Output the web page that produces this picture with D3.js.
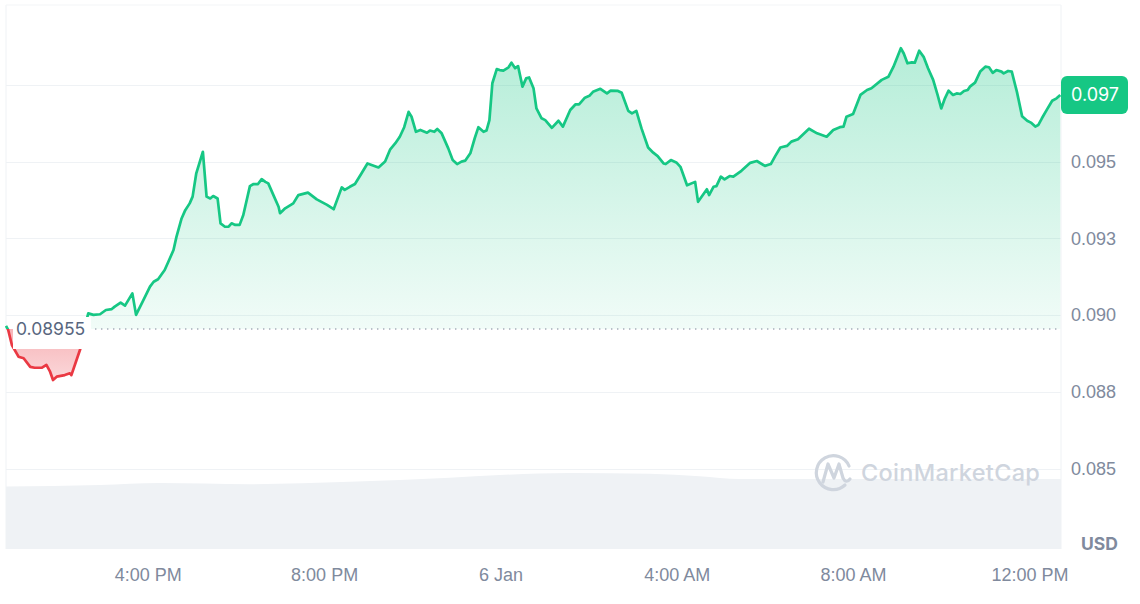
<!DOCTYPE html>
<html><head><meta charset="utf-8">
<script src="https://cdn.jsdelivr.net/npm/d3@7"></script>
<style>
html,body{margin:0;padding:0;background:#fff;}
svg{display:block;font-family:Inter,"Noto Sans",sans-serif;}
</style>
</head><body>
<svg id="chart" width="1140" height="604"></svg>
<script>
// ---------- DATA ----------
const times = ["12:47","12:50","12:55","13:04","13:11","13:20","13:26","13:36","13:42","13:47","13:51","13:56","14:07","14:14","14:16","14:23","14:28","14:33",
"14:39","14:46","14:55","15:03","15:11","15:15","15:23","15:29","15:39","15:44","15:54","16:03","16:08","16:14","16:23","16:28","16:35","16:39","16:46","16:51","16:57","17:01","17:06","17:15","17:20","17:25","17:29","17:35","17:39","17:45","17:50","17:54","17:59","18:05","18:10","18:19","18:24","18:30","18:35","18:40","18:44","18:51","18:58","19:00","19:07","19:18","19:25","19:38","19:50","20:04","20:13","20:24","20:28","20:35","20:42","20:51","20:59","21:14","21:23","21:30","21:37","21:43","21:49","21:55","21:59","22:05","22:11","22:20","22:24","22:30","22:34","22:40","22:49","22:55","23:01","23:07","23:12","23:19","23:25","23:30","23:37","23:41","23:45","23:49","23:55","23:59",
"00:04","00:11","00:15","00:20","00:24","00:30","00:35","00:39","00:45","00:49","00:56","01:01","01:10","01:19","01:25","01:35","01:42","01:47","01:55","02:01","02:06","02:16","02:25","02:30","02:40","02:45","02:54","02:59","03:05","03:12","03:21","03:28","03:34","03:42","03:45","03:52","04:00","04:05","04:14","04:25","04:29","04:41","04:44","04:50","04:54","05:00","05:05","05:12","05:17","05:28","05:40","05:49","06:00","06:08","06:14","06:21","06:30","06:36","06:45","07:00","07:11","07:24","07:33","07:42","07:47","07:51","08:00","08:10","08:19","08:25","08:39","08:48","08:55","09:05","09:09","09:14","09:20","09:24","09:30","09:36","09:42","09:49","09:55","10:00","10:05","10:10","10:16","10:21","10:26","10:31","10:36","10:39","10:46","10:53","11:00","11:05","11:10","11:15","11:22","11:25","11:31","11:36","11:43","11:50","11:57","12:02","12:08","12:12","12:17","12:24","12:31","12:37","12:42"];
const prices = [0.08965,0.08952,0.08903,0.08865,0.08860,0.08832,0.08829,0.08829,0.08838,0.08816,0.08789,0.08800,0.08805,0.08811,0.08805,0.08854,0.08889,0.08952,
0.09006,0.09001,0.09003,0.09017,0.09020,0.09028,0.09041,0.09031,0.09071,0.09001,0.09049,0.09093,0.09109,0.09117,0.09147,0.09174,0.09212,0.09255,0.09315,0.09342,0.09364,0.09386,0.09462,0.09532,0.09386,0.09380,0.09388,0.09380,0.09299,0.09288,0.09288,0.09299,0.09294,0.09294,0.09326,0.09420,0.09427,0.09427,0.09443,0.09434,0.09429,0.09391,0.09353,0.09332,0.09348,0.09364,0.09391,0.09399,0.09377,0.09359,0.09345,0.09416,0.09408,0.09418,0.09427,0.09462,0.09494,0.09481,0.09500,0.09540,0.09560,0.09581,0.09612,0.09662,0.09646,0.09597,0.09603,0.09594,0.09601,0.09597,0.09606,0.09592,0.09543,0.09505,0.09492,0.09500,0.09503,0.09527,0.09576,0.09612,0.09597,0.09601,0.09635,0.09755,0.09801,0.09798,
0.09796,0.09807,0.09822,0.09804,0.09811,0.09744,0.09771,0.09774,0.09739,0.09673,0.09641,0.09635,0.09610,0.09633,0.09614,0.09668,0.09686,0.09686,0.09708,0.09714,0.09727,0.09737,0.09722,0.09731,0.09730,0.09724,0.09665,0.09657,0.09665,0.09608,0.09546,0.09529,0.09518,0.09494,0.09492,0.09505,0.09496,0.09483,0.09423,0.09434,0.09369,0.09410,0.09391,0.09418,0.09420,0.09451,0.09442,0.09453,0.09451,0.09470,0.09496,0.09502,0.09486,0.09492,0.09518,0.09546,0.09551,0.09565,0.09573,0.09607,0.09592,0.09581,0.09603,0.09612,0.09614,0.09646,0.09655,0.09717,0.09733,0.09739,0.09766,0.09776,0.09809,0.09869,0.09852,0.09820,0.09823,0.09822,0.09861,0.09841,0.09804,0.09766,0.09717,0.09673,0.09706,0.09731,0.09717,0.09722,0.09720,0.09730,0.09733,0.09744,0.09757,0.09793,0.09809,0.09807,0.09789,0.09798,0.09793,0.09787,0.09795,0.09793,0.09727,0.09648,0.09633,0.09627,0.09614,0.09619,0.09641,0.09670,0.09698,0.09706,0.09717];
const openPrice = 0.08955;
const openLabel = "0.08955";
const currentLabel = "0.097";
const yTickValues = [0.0850,0.0875,0.0900,0.0925,0.0950,0.0975];
const yTickLabels = ["0.085","0.088","0.090","0.093","0.095","0.097"];
const xTickTimes = ["16:00","20:00","00:00","04:00","08:00","12:00"];
const xTickLabels = ["4:00 PM","8:00 PM","6 Jan","4:00 AM","8:00 AM","12:00 PM"];
const volTimes = ["12:47","14:55","16:16","18:19","20:35","22:51","23:59","01:34","03:23","04:31","05:26","06:48","12:43"];
const volValues = [78,80,82.5,81,84,89,92.5,95,94,91,87.5,87.5,87.5];
const domainTimes = ["12:47","12:43"];
const currencyLabel = "USD";
const watermark = "CoinMarketCap";

// ---------- HELPERS ----------
function parseSeq(arr){
  let day = 5, prev = -1;
  return arr.map(s => {
    const [h,m] = s.split(":").map(Number);
    const mins = h*60+m;
    if (prev >= 0 && mins < prev) day++;
    prev = mins;
    return new Date(2025,0,day,h,m);
  });
}
const tDates = parseSeq(times);
const data = tDates.map((d,i)=>({t:d, v:prices[i]}));
const vDates = parseSeq(volTimes);
const vol = vDates.map((d,i)=>({t:d, v:volValues[i]}));
const xTicks = parseSeq(xTickTimes);
const dom = parseSeq(domainTimes);

// ---------- LAYOUT ----------
const L = 6, R = 1061, T = 5, B = 549;
const svg = d3.select("#chart");
const x = d3.scaleTime().domain(dom).range([L, R]);
const y = d3.scaleLinear().domain([0.085, 0.0975]).range([468.8, 84.8]);
const vy = d3.scaleLinear().domain([0, 100]).range([B, 469]);
const by = y(openPrice);

const defs = svg.append("defs");
const gG = defs.append("linearGradient").attr("id","gGreen").attr("gradientUnits","userSpaceOnUse")
  .attr("x1",0).attr("x2",0).attr("y1",45).attr("y2",by);
gG.append("stop").attr("offset","0").attr("stop-color","#16c784").attr("stop-opacity",0.32);
gG.append("stop").attr("offset","1").attr("stop-color","#16c784").attr("stop-opacity",0.06);
const gR = defs.append("linearGradient").attr("id","gRed").attr("gradientUnits","userSpaceOnUse")
  .attr("x1",0).attr("x2",0).attr("y1",by).attr("y2",385);
gR.append("stop").attr("offset","0").attr("stop-color","#ea3943").attr("stop-opacity",0.38);
gR.append("stop").attr("offset","1").attr("stop-color","#ea3943").attr("stop-opacity",0.18);
defs.append("clipPath").attr("id","cAbove").append("rect").attr("x",0).attr("y",0).attr("width",1140).attr("height",by);
defs.append("clipPath").attr("id","cBelow").append("rect").attr("x",0).attr("y",by).attr("width",1140).attr("height",604-by);

// frame lines
svg.append("line").attr("x1",L).attr("x2",L).attr("y1",T).attr("y2",B).attr("stroke","#eff2f5");
svg.append("line").attr("x1",R).attr("x2",R).attr("y1",T).attr("y2",B).attr("stroke","#eff2f5");
svg.append("line").attr("x1",L).attr("x2",R).attr("y1",T).attr("y2",T).attr("stroke","#f3f5f7");

// volume
svg.append("path").datum(vol)
  .attr("d", d3.area().x(d=>x(d.t)).y0(B).y1(d=>vy(d.v)).curve(d3.curveMonotoneX))
  .attr("fill","#eff2f5");

// gridlines
svg.append("g").selectAll("line").data(yTickValues).join("line")
  .attr("x1",L).attr("x2",R).attr("y1",d=>Math.round(y(d))+0.5).attr("y2",d=>Math.round(y(d))+0.5)
  .attr("stroke","#eff2f5").attr("stroke-width",1);

// watermark
const wm = svg.append("g").attr("fill","none").attr("stroke","#cfd5de").attr("stroke-width",3.2).attr("stroke-linecap","round").attr("stroke-linejoin","round");
wm.append("path").attr("d","M845 485 A17 17 0 1 1 849 466");
wm.append("path").attr("d","M823 482 L828 464 L834 478 L839 464 L843 478 Q846 484 850 479");
svg.append("text").attr("x",861).attr("y",481).text(watermark)
  .attr("font-size",23.5).attr("font-weight",500).attr("letter-spacing",0.3).attr("fill","#cfd5de");

// areas
const area = d3.area().x(d=>x(d.t)).y0(by).y1(d=>y(d.v));
svg.append("path").datum(data).attr("d",area).attr("fill","url(#gGreen)").attr("clip-path","url(#cAbove)");
svg.append("path").datum(data).attr("d",area).attr("fill","url(#gRed)").attr("clip-path","url(#cBelow)");

// baseline dotted
svg.append("line").attr("x1",95).attr("x2",R).attr("y1",by).attr("y2",by)
  .attr("stroke","#a6adb9").attr("stroke-width",1.4).attr("stroke-dasharray","1.4 4.6");

// lines
const line = d3.line().x(d=>x(d.t)).y(d=>y(d.v));
svg.append("path").datum(data).attr("d",line).attr("fill","none").attr("stroke","#16c784")
  .attr("stroke-width",2.7).attr("stroke-linejoin","round").attr("clip-path","url(#cAbove)");
svg.append("path").datum(data).attr("d",line).attr("fill","none").attr("stroke","#ea3943")
  .attr("stroke-width",2.7).attr("stroke-linejoin","round").attr("clip-path","url(#cBelow)");

// open price label
svg.append("rect").attr("x",13).attr("y",317).attr("width",78).attr("height",32).attr("fill","#fff");
svg.append("text").attr("x",16).attr("y",by).attr("dy","0.35em").text(openLabel)
  .attr("font-size",17.5).attr("fill","#58667e");

// current price tag
const last = data[data.length-1];
const cy = y(last.v);
const tagTop = cy-19, tagBot = cy+19;

// y axis (a tick label hidden behind the current price tag is not drawn)
const ya = svg.append("g").attr("transform",`translate(${R},0)`)
  .call(d3.axisRight(y).tickValues(yTickValues).tickFormat((d,i)=>yTickLabels[i]).tickSize(0).tickPadding(10));
ya.select(".domain").remove();
ya.selectAll("text").attr("font-size",18).attr("fill","#808a9d").attr("font-family",null);
ya.selectAll(".tick").filter(d=>y(d)>tagTop-8 && y(d)<tagBot+8).remove();

svg.append("rect").attr("x",R).attr("y",tagTop).attr("width",67).attr("height",38).attr("rx",6).attr("fill","#16c784");
svg.append("text").attr("x",R+10).attr("y",cy).attr("dy","0.35em").text(currentLabel)
  .attr("font-size",18).attr("fill","#fff");

// x axis
const xa = svg.append("g").attr("transform",`translate(0,${B})`)
  .call(d3.axisBottom(x).tickValues(xTicks).tickFormat((d,i)=>xTickLabels[i]).tickSize(0).tickPadding(19));
xa.select(".domain").remove();
xa.selectAll("text").attr("font-size",18).attr("fill","#808a9d").attr("font-family",null);

// currency
svg.append("text").attr("x",1081).attr("y",550).text(currencyLabel)
  .attr("font-size",17.5).attr("font-weight",700).attr("fill","#808a9d");
</script>
</body></html>
